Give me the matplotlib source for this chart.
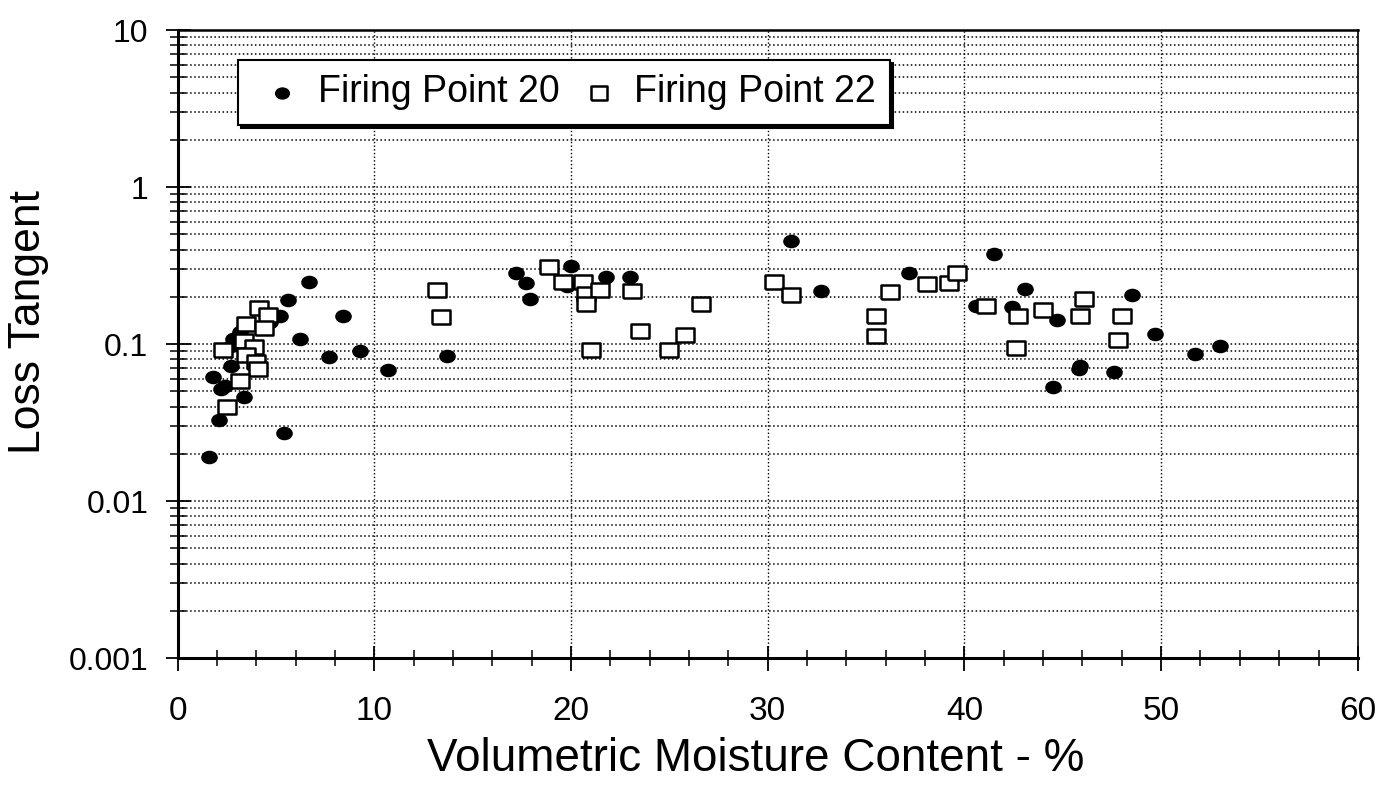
import matplotlib.pyplot as plt
from matplotlib.ticker import LogLocator, MultipleLocator, FixedLocator
from matplotlib.path import Path
from matplotlib.transforms import Affine2D

plt.rcParams['font.family'] = ['Liberation Sans', 'DejaVu Sans']

# Firing Point 20 (filled dots)
fp20_moisture = [1.6, 2.1, 1.8, 2.2, 2.4, 3.4, 2.7, 2.7, 2.8, 3.2, 4.7, 5.2, 5.4, 5.6,
                 6.2, 6.7, 8.4, 7.7, 9.3, 10.7, 13.7, 17.2, 20.0, 17.7, 17.9, 19.8,
                 21.8, 23.0, 31.2, 32.7, 37.2, 41.5, 40.6, 42.4, 43.1, 44.7, 44.5,
                 48.5, 49.7, 53.0, 51.7, 45.9, 45.8, 47.6]
fp20_loss = [0.019, 0.033, 0.062, 0.052, 0.054, 0.046, 0.073, 0.098, 0.108, 0.12, 0.139,
             0.152, 0.027, 0.19, 0.108, 0.25, 0.15, 0.083, 0.09, 0.068, 0.084, 0.285,
             0.314, 0.245, 0.195, 0.234, 0.268, 0.268, 0.453, 0.219, 0.285, 0.373,
             0.175, 0.173, 0.223, 0.142, 0.053, 0.205, 0.116, 0.098, 0.086, 0.073,
             0.069, 0.066]

# Firing Point 22 (open squares)
fp22_moisture = [13.2, 13.4, 4.15, 4.6, 3.5, 4.4, 3.4, 3.9, 2.3, 3.5, 4.0, 4.1, 3.2, 2.5,
                 18.9, 19.6, 20.6, 20.75, 21.5, 20.75, 23.1, 26.6, 23.5, 25.8, 21.0, 25.0,
                 30.3, 31.2, 36.2, 35.5, 35.5, 38.1, 39.2, 39.6, 41.1, 42.7, 42.6, 44.0,
                 46.1, 45.9, 48.0, 47.8]
fp22_loss = [0.221, 0.148, 0.171, 0.153, 0.135, 0.126, 0.104, 0.096, 0.092, 0.085, 0.077,
             0.069, 0.058, 0.040, 0.308, 0.25, 0.25, 0.21, 0.221, 0.18, 0.218, 0.18,
             0.121, 0.114, 0.092, 0.092, 0.248, 0.205, 0.214, 0.151, 0.113, 0.243, 0.245,
             0.285, 0.175, 0.151, 0.095, 0.166, 0.194, 0.151, 0.15, 0.106]

x_ticks = [0, 10, 20, 30, 40, 50, 60]
y_ticks = [0.001, 0.01, 0.1, 1, 10]
y_tick_labels = ['0.001', '0.01', '0.1', '1', '10']

fig = plt.figure(figsize=(13.87, 7.92), dpi=100)
ax = fig.add_axes([0.128, 0.169, 0.851, 0.793])

# slightly flattened dot, slightly wide box, like the scan
dot = Path.unit_circle().transformed(Affine2D().scale(1.25, 1.0))
rect = [(-1.25, -1), (1.25, -1), (1.25, 1), (-1.25, 1), (-1.25, -1)]
ax.scatter(fp20_moisture, fp20_loss, marker=dot, s=120, color='black', zorder=3,
           label='Firing Point 20')
ax.scatter(fp22_moisture, fp22_loss, marker=rect, s=170, facecolor='white',
           edgecolor='black', linewidth=1.8, zorder=3, label='Firing Point 22')

ax.set_yscale('log')
ax.set_xlim(0, 60)
ax.set_ylim(0.001, 10)
ax.xaxis.set_major_locator(FixedLocator(x_ticks))
ax.xaxis.set_minor_locator(MultipleLocator(2))
ax.yaxis.set_major_locator(FixedLocator(y_ticks))
ax.set_yticklabels(y_tick_labels)
ax.yaxis.set_minor_locator(LogLocator(base=10, subs=range(2, 10), numticks=20))

ax.grid(True, which='major', axis='x', linestyle=':', color='black', linewidth=1)
ax.grid(True, which='both', axis='y', linestyle=':', color='black', linewidth=1.1)

ax.tick_params(axis='both', which='major', direction='inout', length=18, width=1.3,
               colors='black')
ax.tick_params(axis='both', which='minor', direction='inout', length=12, width=1.1)
ax.tick_params(axis='x', which='major', pad=18, labelsize=24)
ax.tick_params(axis='y', which='major', pad=12, labelsize=23)

for side in ['left', 'bottom']:
    ax.spines[side].set_linewidth(2.2)
ax.spines['top'].set_linewidth(1.8)
ax.spines['right'].set_linewidth(1.2)

ax.set_xlabel('Volumetric Moisture Content - %', fontsize=33)
ax.xaxis.set_label_coords(0.49, -0.125)
ax.set_ylabel('Loss Tangent', fontsize=32, va='center')
ax.yaxis.set_label_coords(-0.126, 0.535)

leg = ax.legend(loc='upper left', bbox_to_anchor=(0.051, 0.952), borderaxespad=0,
                ncol=2, fontsize=27, markerscale=0.9, frameon=True, fancybox=False,
                shadow={'color': 'black', 'alpha': 1}, handlelength=1.6,
                handletextpad=0.15, columnspacing=0.25, borderpad=0.38)
leg.get_frame().set_edgecolor('black')
leg.get_frame().set_linewidth(1.5)
leg.get_frame().set_alpha(1)

fig.savefig('out.png', dpi=100)
